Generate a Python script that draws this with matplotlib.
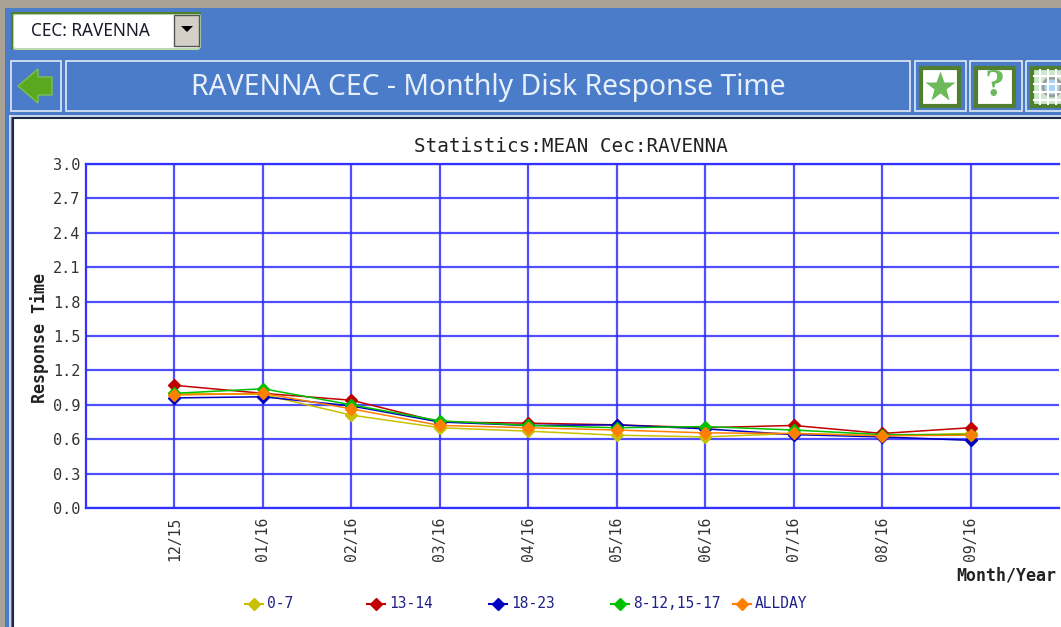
import matplotlib
matplotlib.use('Agg')
import matplotlib.pyplot as plt
from matplotlib.patches import Rectangle, Polygon, Circle, FancyBboxPatch

W, H = 1061, 627

months = ['12/15', '01/16', '02/16', '03/16', '04/16', '05/16', '06/16', '07/16', '08/16', '09/16']
yticks = [0.0, 0.3, 0.6, 0.9, 1.2, 1.5, 1.8, 2.1, 2.4, 2.7, 3.0]

h_0_7 = [1.00, 0.99, 0.81, 0.70, 0.67, 0.635, 0.62, 0.65, 0.63, 0.65]
h_13_14 = [1.07, 1.00, 0.94, 0.75, 0.74, 0.725, 0.70, 0.72, 0.65, 0.70]
h_18_23 = [0.96, 0.97, 0.89, 0.75, 0.72, 0.725, 0.69, 0.64, 0.62, 0.59]
h_8_17 = [1.00, 1.04, 0.90, 0.76, 0.72, 0.70, 0.71, 0.68, 0.64, 0.64]
h_allday = [0.985, 1.00, 0.865, 0.72, 0.70, 0.68, 0.655, 0.65, 0.63, 0.635]

names = ['0-7', '13-14', '18-23', '8-12,15-17', 'ALLDAY']
colors = ['#c8c000', '#c00000', '#0000c0', '#00c000', '#ff8000']
series = [h_0_7, h_13_14, h_18_23, h_8_17, h_allday]

fig = plt.figure(figsize=(W / 100, H / 100), dpi=100, facecolor='white')

# page chrome, in pixels
bg = fig.add_axes([0, 0, 1, 1])
bg.set_xlim(0, W)
bg.set_ylim(H, 0)
bg.axis('off')

BLUE = '#4a7cc9'
GREEN = '#4f7f2f'
bg.add_patch(Rectangle((0, 0), W, H, fc='#aba296', ec='none'))
bg.add_patch(Rectangle((5, 8), W, H, fc=BLUE, ec='none'))
bg.plot([10, 10], [116, H], color='#dfe8f5', lw=1.2)
bg.plot([10, W], [115.5, 115.5], color='#dfe8f5', lw=1.2)
bg.add_patch(Rectangle((13, 118), W, H, fc='white', ec='#1c2a40', lw=1.5))

# dropdown
bg.add_patch(FancyBboxPatch((13, 14), 187, 35, boxstyle='round,pad=0,rounding_size=3',
                            fc='white', ec='#b9d8ac', lw=1.5))
bg.plot([12, 12, 200], [48, 13, 13], color=GREEN, lw=1.5)
bg.add_patch(Rectangle((174, 15), 25, 31, fc='#d4d0c8', ec='#555555', lw=1))
bg.add_patch(Polygon([[181, 26], [193, 26], [187, 32]], fc='black', ec='none'))
bg.text(31, 31, 'CEC: RAVENNA', family='Noto Sans', fontsize=12.4, color='#1a1a2a', va='center')

# title bar boxes
for x0, x1 in [(10.5, 61), (65.5, 910), (914.5, 966), (969.5, 1022), (1026, 1070)]:
    bg.add_patch(Rectangle((x0, 60.5), x1 - x0, 50.5, fc='none', ec='#d8e3f4', lw=1.3))
bg.text(488, 88, 'RAVENNA CEC - Monthly Disk Response Time', family='Noto Sans',
        fontsize=20.4, color='#e8f0fb', ha='center', va='center')

# back arrow
bg.add_patch(Polygon([[18, 86], [38, 69], [38, 77], [52, 77], [52, 95], [38, 95], [38, 103]],
                     fc='#5aa81e', ec='#7fbf50', lw=1))

# star and help buttons
for x0 in [921, 976]:
    bg.add_patch(Rectangle((x0, 68), 38, 38, fc='white', ec=GREEN, lw=3))
bg.plot([940], [87], marker='*', ms=23, color='#6cba5c', mec='none')
bg.text(995, 87, '?', family='Liberation Serif', fontsize=29, weight='bold', color='#6cba5c',
        ha='center', va='center')

# grid and magnifier button
bg.add_patch(Rectangle((1032, 68), 40, 38, fc='#cfe8cb', ec=GREEN, lw=3))
for gx in [1040, 1048, 1056]:
    bg.plot([gx, gx], [70, 104], color='white', lw=1.5)
for gy in [76, 84, 92, 100]:
    bg.plot([1034, 1061], [gy, gy], color='white', lw=1.5)
bg.add_patch(Circle((1052, 87), 9, fc='#a9d4f2', ec='#9a9a9a', lw=2))

# chart
left, right, top, bottom = 86, 1059, 164, 508
ax = fig.add_axes([left / W, 1 - bottom / H, (right - left) / W, (bottom - top) / H])
ax.set_facecolor('white')
x = list(range(len(months)))
for values, color, name in zip(series, colors, names):
    ax.plot(x, values, color=color, lw=1.1, marker='D', ms=6.5, mec=color, label=name, zorder=3)

ax.set_xlim(-1, 10)
ax.set_ylim(0, 3)
ax.set_xticks(x)
ax.set_xticklabels(months, rotation=90, family='DejaVu Sans Mono', fontsize=10.6, color='#333333')
ax.set_yticks(yticks)
ax.set_yticklabels([f'{t:.1f}' for t in yticks], family='DejaVu Sans Mono', fontsize=11, color='#333333')
ax.tick_params(axis='x', length=0, pad=6)
ax.tick_params(axis='y', length=0, pad=4)
ax.grid(True, color='#3030ff', lw=1.6, alpha=0.85)
ax.set_axisbelow(True)
for s in ax.spines.values():
    s.set_color('#3030ff')
    s.set_linewidth(1.6)
ax.spines['right'].set_visible(False)

bg.text(571, 146, 'Statistics:MEAN Cec:RAVENNA', family='DejaVu Sans Mono', fontsize=13.9,
        color='#222222', ha='center', va='center')
bg.text(40, 338, 'Response Time', family='DejaVu Sans Mono', fontsize=12, weight='bold',
        color='#222222', rotation=90, ha='center', va='center')
bg.text(1056, 575, 'Month/Year', family='DejaVu Sans Mono', fontsize=12, weight='bold',
        color='#222222', ha='right', va='center')

# legend
for i, (name, color) in enumerate(zip(names, colors)):
    lx = 254 + 122 * i
    bg.plot([lx - 9, lx + 9], [604, 604], color=color, lw=1.5)
    bg.plot([lx], [604], marker='D', ms=6, color=color, mec=color)
    bg.text(lx + 13, 604, name, family='DejaVu Sans Mono', fontsize=10.5, color='#20208a', va='center')

fig.savefig('out.png', dpi=100)
